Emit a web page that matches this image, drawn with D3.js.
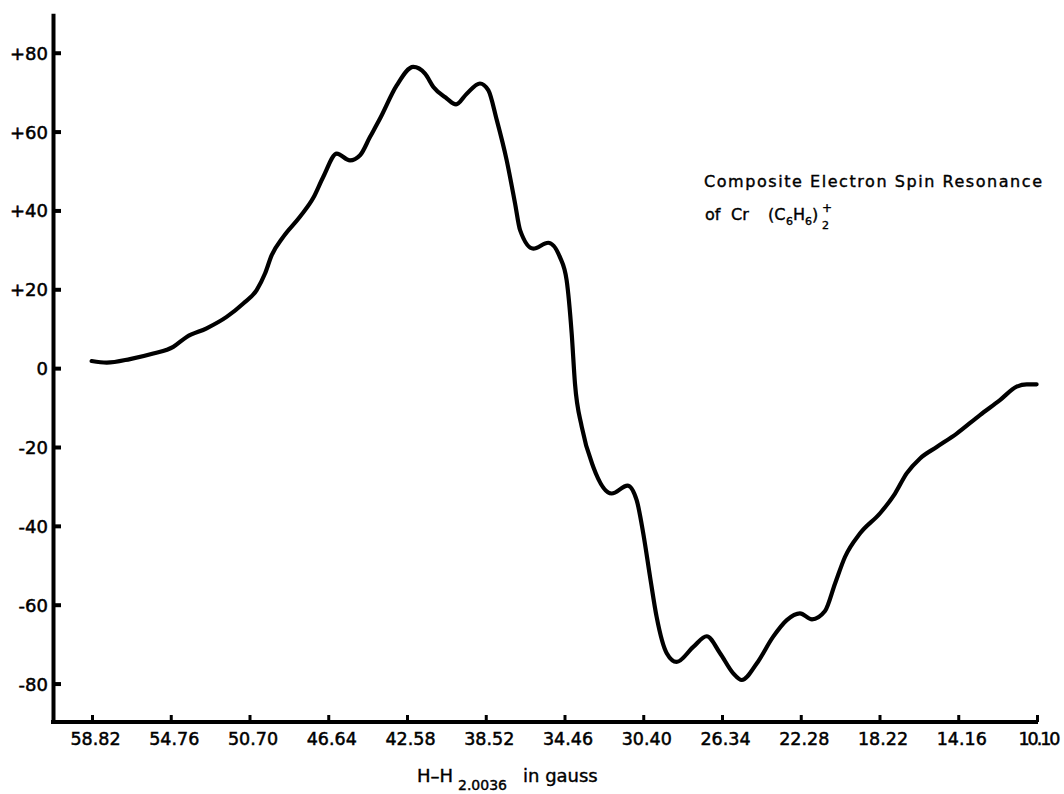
<!DOCTYPE html>
<html>
<head>
<meta charset="utf-8">
<script src="https://cdn.jsdelivr.net/npm/d3@7/dist/d3.min.js"></script>
<style>
  html, body { margin: 0; padding: 0; background: #fff; }
  svg { display: block; }
  text { font-family: "DejaVu Sans", sans-serif; fill: #000; }
</style>
</head>
<body>
<svg id="chart" width="1064" height="794"></svg>
<script>
// ---- Data ----
// field offset in gauss (axis runs from high to low)
const fieldGauss = [58.84, 58.06, 56.86, 55.66, 54.63, 53.94, 52.91, 51.88, 51.02, 50.33,
  49.90, 49.56, 48.96, 48.10, 47.41, 46.90, 46.20, 45.52, 45.00, 44.49,
  43.97, 43.11, 42.26, 41.65, 41.22, 40.53, 40.05, 39.50, 38.82, 38.39,
  37.95, 37.44, 37.01, 36.75, 36.07, 35.30, 34.69, 34.35, 34.09, 33.92,
  33.57, 32.98, 32.03, 31.21, 30.74, 30.40, 30.05, 29.71, 29.19, 28.68,
  27.82, 27.13, 26.44, 25.76, 25.32, 24.55, 23.70, 23.00, 22.32, 21.70,
  21.03, 20.51, 20.00, 19.22, 18.19, 17.42, 16.82, 16.13, 15.27, 14.24,
  13.04, 12.01, 11.15, 10.63, 10.12];
// derivative signal
const signal = [1.8, 1.4, 2.3, 3.7, 5.4, 7.9, 10.1, 13.0, 16.4, 19.8,
  24.0, 28.6, 33.3, 38.4, 43.2, 48.5, 54.4, 52.7, 54.0, 58.6,
  63.3, 71.7, 76.4, 74.7, 71.3, 68.4, 66.9, 69.6, 72.2, 70.5,
  62.9, 52.7, 41.8, 35.0, 30.3, 31.8, 28.1, 22.3, 8.8, -3.9,
  -14.9, -25.0, -31.8, -29.8, -33.5, -41.9, -52.9, -63.1, -72.3, -74.5,
  -70.7, -68.0, -72.3, -77.4, -79.1, -74.9, -68.1, -63.9, -62.2, -63.7,
  -61.6, -54.6, -47.9, -41.9, -36.8, -31.8, -26.7, -22.9, -20.0, -16.6,
  -11.9, -8.1, -4.7, -4.1, -4.1];

const xTickValues = [58.82, 54.76, 50.70, 46.64, 42.58, 38.52, 34.46, 30.40, 26.34, 22.28, 18.22, 14.16, 10.10];
const xTickLabels = ["58.82", "54.76", "50.70", "46.64", "42.58", "38.52", "34.46", "30.40", "26.34", "22.28", "18.22", "14.16", "10.10"];
const yTickValues = [80, 60, 40, 20, 0, -20, -40, -60, -80];
const yTickLabels = ["+80", "+60", "+40", "+20", "0", "-20", "-40", "-60", "-80"];

// ---- Layout ----
const svg = d3.select("#chart");
const axisX = 53;      // y-axis position
const axisY = 722;     // x-axis position

const x = d3.scaleLinear().domain([58.82, 10.10]).range([92, 1037]);
const y = d3.scaleLinear().domain([-89.7, 90]).range([721.8, 13.3]);

// y axis
const yAxis = d3.axisLeft(y)
  .tickValues(yTickValues)
  .tickFormat((d, i) => yTickLabels[i])
  .tickSizeInner(-8)
  .tickSizeOuter(0)
  .tickPadding(5);
const gy = svg.append("g").attr("transform", `translate(${axisX},0)`).call(yAxis);
gy.select(".domain").attr("stroke", "#000").attr("stroke-width", 4);
gy.selectAll(".tick line").attr("stroke", "#000").attr("stroke-width", 4);
gy.selectAll(".tick text")
  .attr("font-size", 18)
  .attr("font-family", "DejaVu Sans, sans-serif")
  .attr("fill", "#000")
  .attr("stroke", "#000").attr("stroke-width", 0.5)
  .attr("dy", "0.36em");

// x axis
const xAxis = d3.axisBottom(x)
  .tickValues(xTickValues)
  .tickFormat((d, i) => xTickLabels[i])
  .tickSizeInner(-7)
  .tickSizeOuter(0)
  .tickPadding(11);
const gx = svg.append("g").attr("transform", `translate(0,${axisY})`).call(xAxis);
gx.select(".domain").remove();
gx.append("line")
  .attr("x1", axisX - 2).attr("x2", x(10.10) + 1)
  .attr("y1", 0).attr("y2", 0)
  .attr("stroke", "#000").attr("stroke-width", 4);
gx.selectAll(".tick line").attr("stroke", "#000").attr("stroke-width", 3);
gx.selectAll(".tick text")
  .attr("font-size", 17.5)
  .attr("font-family", "DejaVu Sans, sans-serif")
  .attr("fill", "#000")
  .attr("stroke", "#000").attr("stroke-width", 0.5)
  .attr("dx", 3);
// the last label sits close to the right edge, with narrow "1" glyphs in the reference
gx.selectAll(".tick text")
  .filter((d, i) => xTickLabels[i] === "10.10")
  .attr("text-anchor", "end")
  .attr("letter-spacing", "-2px")
  .attr("dx", 21);

// curve
const pts = fieldGauss.map((g, i) => [g, signal[i]]);
const line = d3.line()
  .x(d => x(d[0]))
  .y(d => y(d[1]))
  .curve(d3.curveMonotoneX);
svg.append("path")
  .datum(pts)
  .attr("d", line)
  .attr("fill", "none")
  .attr("stroke", "#000")
  .attr("stroke-width", 4.2)
  .attr("stroke-linecap", "round")
  .attr("stroke-linejoin", "round");

// x-axis title: H-H_{2.0036} in gauss
const xt = svg.append("text")
  .attr("font-size", 18)
  .attr("stroke", "#000").attr("stroke-width", 0.4);
xt.append("tspan").attr("x", 417).attr("y", 782).text("H–H");
xt.append("tspan").attr("x", 458).attr("y", 790).attr("font-size", 14).text("2.0036");
xt.append("tspan").attr("x", 523).attr("y", 782).text("in gauss");

// title
svg.append("text")
  .attr("x", 704).attr("y", 187)
  .attr("font-size", 16)
  .attr("stroke", "#000").attr("stroke-width", 0.4)
  .attr("textLength", 338)
  .attr("lengthAdjust", "spacing")
  .text("Composite  Electron  Spin  Resonance");

const t2 = svg.append("text")
  .attr("font-size", 16)
  .attr("stroke", "#000").attr("stroke-width", 0.4);
t2.append("tspan").attr("x", 705).attr("y", 220).text("of");
t2.append("tspan").attr("x", 731).attr("y", 220).text("Cr");
t2.append("tspan").attr("x", 768).attr("y", 220).text("(C");
t2.append("tspan").attr("x", 786).attr("y", 225).attr("font-size", 11).text("6");
t2.append("tspan").attr("x", 793).attr("y", 220).text("H");
t2.append("tspan").attr("x", 805).attr("y", 225).attr("font-size", 11).text("6");
t2.append("tspan").attr("x", 812).attr("y", 220).text(")");
t2.append("tspan").attr("x", 822).attr("y", 229).attr("font-size", 11).text("2");
t2.append("tspan").attr("x", 822).attr("y", 212).attr("font-size", 12).text("+");
</script>
</body>
</html>
